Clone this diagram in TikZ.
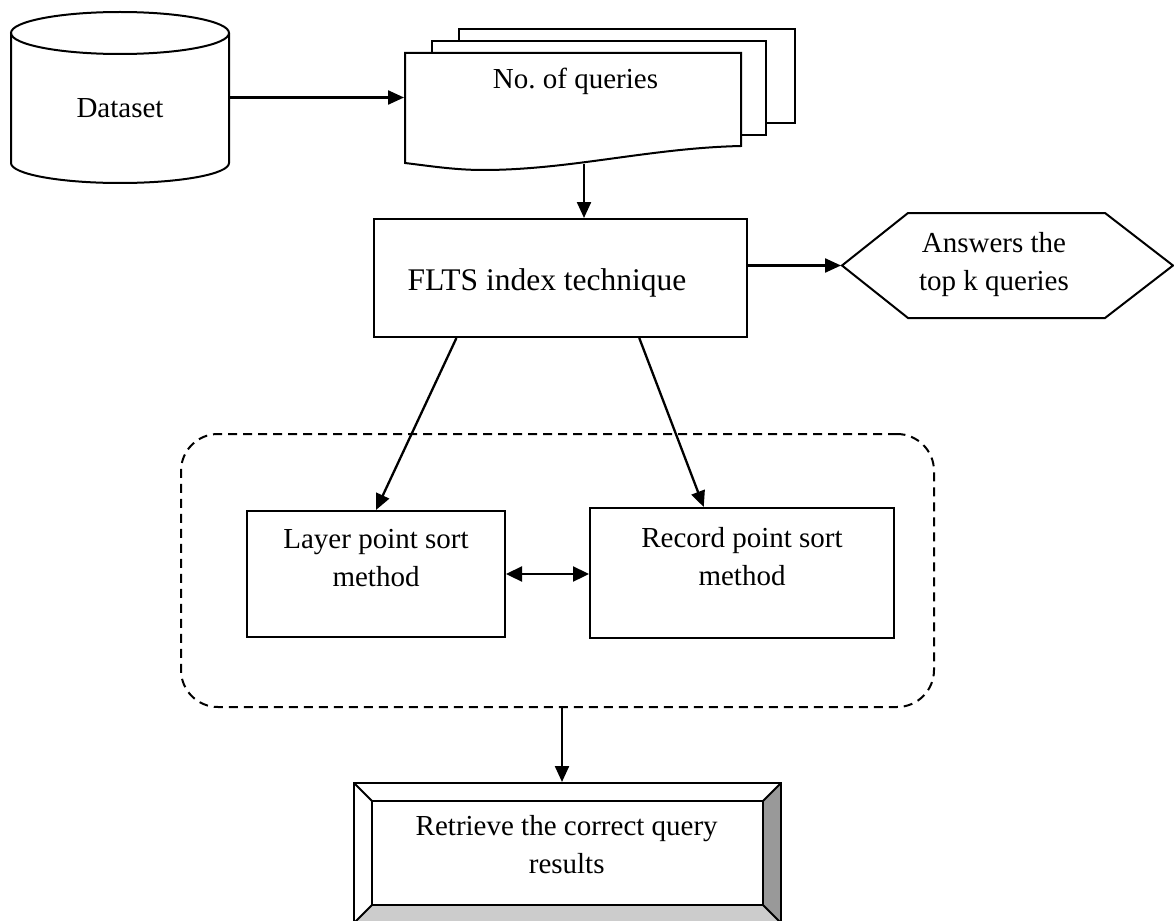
\documentclass[tikz,border=0pt]{standalone}
\usepackage{fontspec}
\setmainfont{Liberation Serif}
\usetikzlibrary{arrows.meta,calc}
\begin{document}
\begin{tikzpicture}[x=1pt,y=-1pt,line width=2pt,
  txt/.style={font=\fontsize{29}{38}\selectfont,inner sep=0pt,align=center,anchor=base},
  area/.style={draw=none,inner sep=0pt},
  boxn/.style={draw,inner sep=0pt,fill=white},
  arr/.style={-{Triangle[length=16pt,width=14pt]},line width=2.3pt},
  darr/.style={{Triangle[length=16pt,width=15pt]}-{Triangle[length=16pt,width=15pt]},line width=2.3pt},
  grpbox/.style={draw,dash pattern=on 9pt off 6pt,rounded corners=37pt,inner sep=0pt}]
\useasboundingbox (0,0) rectangle (1174,920);

% Dataset cylinder
\draw[fill=white] (11,33) -- (11,163) arc[start angle=180,end angle=0,x radius=109,y radius=20] -- (229,33);
\draw (120,33) ellipse[x radius=109,y radius=21];
\node[area,minimum width=218pt,minimum height=171pt] (dataset) at (120,97.5) {};
\node[txt] (datasettext) at (120,118) {Dataset};

% stacked documents
\draw[fill=white] (459,123) -- (459,29) -- (795,29) -- (795,123) -- cycle;
\draw[fill=white] (432,135) -- (432,41) -- (766,41) -- (766,135) -- cycle;
\draw[fill=white] (405,53) -- (741,53) -- (741,146)
  .. controls (650,148) and (570,170) .. (483,170)
  .. controls (455,170) and (430,166) .. (405,163) -- cycle;
\node[area,minimum width=336pt,minimum height=117pt] (queries) at (573,111.5) {};
\node[txt] (queriestext) at (575.5,88.3) {No.\ of queries};
\coordinate (qout) at (584,164.5);

% FLTS
\node[boxn,minimum width=373pt,minimum height=118pt] (fl) at (560.5,278) {};
\node[txt,font=\fontsize{31.5}{38}\selectfont] (fltext) at (547,290.7) {FLTS index technique};

% hexagon
\draw[fill=white] (842,265.5) -- (908,213) -- (1105,213) -- (1173,265.5) -- (1105,318) -- (908,318) -- cycle;
\node[area,minimum width=331pt,minimum height=105pt] (hex) at (1007.5,265.5) {};
\node[txt] (hextext) at (994,290) {Answers the\\top k queries};

% group
\node[grpbox,minimum width=753pt,minimum height=273pt] (grp) at (557.5,570.5) {};
\node[boxn,minimum width=258pt,minimum height=126pt] (lb) at (376,574) {};
\node[txt] (lbtext) at (376,586.7) {Layer point sort\\method};
\node[boxn,minimum width=304pt,minimum height=130pt] (rb) at (742,573) {};
\node[txt] (rbtext) at (742,585) {Record point sort\\method};
\coordinate (gout) at (562,707);

% bevel box
\node[area,minimum width=427pt,minimum height=140pt] (res) at (567.5,853) {};
\fill[black!40] (763,801) -- (781,783) -- (781,923) -- (763,905) -- cycle;
\fill[black!20] (372,905) -- (763,905) -- (781,923) -- (354,923) -- cycle;
\draw (354,783) rectangle (781,923);
\draw (372,801) rectangle (763,905);
\draw (354,783) -- (372,801) (781,783) -- (763,801) (354,923) -- (372,905) (781,923) -- (763,905);
\node[txt] (restext) at (566.7,873.3) {Retrieve the correct query\\results};

% connectors
\draw[arr] (dataset.east) -- (dataset.east -| queries.west);
\draw[arr] (qout) -- (qout |- fl.north);
\draw[arr] (fl.east |- hex.west) -- (hex.west);
\draw[arr] ($(fl.south west)!0.2225!(fl.south east)$) -- (lb.north);
\draw[arr] ($(fl.south west)!0.71!(fl.south east)$) -- ($(rb.north west)!0.375!(rb.north east)$);
\draw[darr] (lb.east) -- (lb.east -| rb.west);
\draw[arr] (gout) -- (gout |- res.north);
\end{tikzpicture}
\end{document}
